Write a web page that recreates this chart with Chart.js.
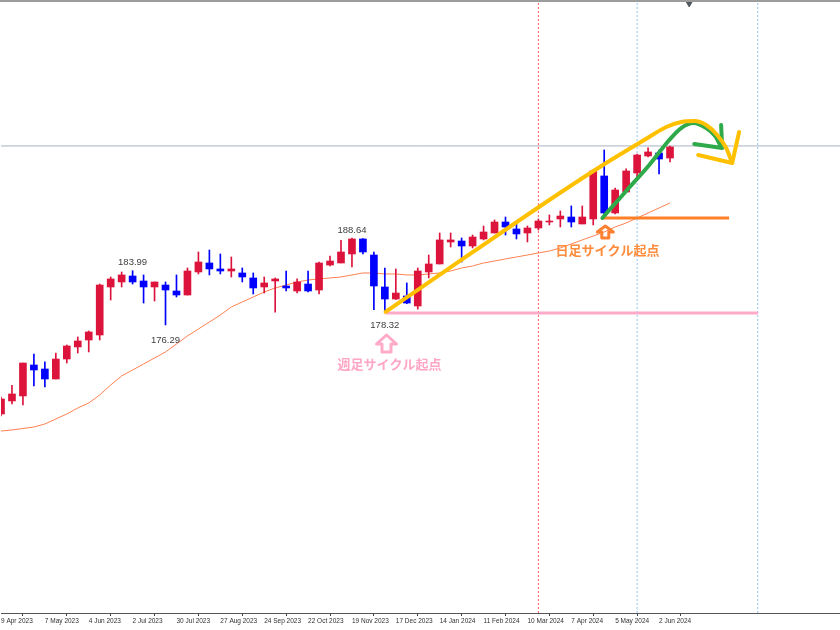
<!DOCTYPE html>
<html>
<head>
<meta charset="utf-8">
<script src="https://cdn.jsdelivr.net/npm/chart.js@4.4.1/dist/chart.umd.min.js"></script>
<style>
  body { margin: 0; background: #fff; }
  #wrap { width: 840px; height: 628px; border-top: 2px solid #9c9c9c; }
</style>
</head>
<body>
<div id="wrap"><canvas id="myChart" width="840" height="628"></canvas></div>
<script>
// weekly candles, index 0 = week of 9 Apr 2023
const tickIdx = [0, 4, 8, 12, 16, 20, 24, 28, 32, 36, 40, 44, 48, 52, 56, 60];
const tickLabels = ["9 Apr 2023", "7 May 2023", "4 Jun 2023", "2 Jul 2023", "30 Jul 2023", "27 Aug 2023",
  "24 Sep 2023", "22 Oct 2023", "19 Nov 2023", "17 Dec 2023", "14 Jan 2024", "11 Feb 2024",
  "10 Mar 2024", "7 Apr 2024", "5 May 2024", "2 Jun 2024"];

const open = [163.64, 165.49, 166.20, 170.60, 170.03, 168.61, 171.45, 173.16, 174.15, 174.86,
  181.68, 182.39, 183.24, 182.53, 181.68, 181.96, 181.11, 180.54, 183.81, 185.09,
  184.24, 183.95, 183.67, 182.96, 181.68, 182.53, 181.82, 181.11, 182.10, 181.25,
  184.80, 185.09, 186.37, 188.50, 186.22, 181.68, 179.97, 180.40, 178.98, 183.81,
  184.95, 188.07, 188.21, 187.50, 188.50, 189.35, 190.91, 189.92, 189.35, 190.06,
  190.91, 191.34, 191.62, 190.63, 191.34, 197.45, 192.19, 195.17, 197.87, 200.29,
  200.71, 200.00];
const high = [166.05, 167.70, 170.88, 172.16, 171.03, 172.30, 173.44, 174.58, 175.43, 182.10,
  183.10, 183.81, 183.99, 183.39, 182.39, 182.39, 183.39, 184.38, 186.65, 186.93,
  186.37, 185.94, 184.38, 183.67, 183.10, 182.96, 183.95, 182.82, 183.95, 185.23,
  186.08, 188.30, 188.64, 188.55, 186.65, 184.38, 184.24, 182.25, 184.38, 186.22,
  189.35, 189.35, 188.64, 189.06, 190.34, 191.20, 191.62, 190.77, 190.34, 191.34,
  191.91, 192.48, 193.19, 193.19, 198.30, 201.14, 195.74, 198.45, 200.57, 201.43,
  201.14, 201.71];
const low = [163.35, 165.06, 164.92, 167.62, 167.47, 168.61, 170.88, 172.30, 172.45, 174.15,
  179.83, 181.68, 182.10, 179.40, 179.69, 176.29, 180.26, 180.54, 183.53, 183.39,
  183.53, 183.10, 182.39, 180.68, 180.82, 178.10, 181.11, 180.82, 180.97, 180.68,
  184.66, 185.09, 184.52, 186.37, 178.45, 178.32, 179.90, 179.30, 178.53, 182.96,
  184.95, 187.36, 185.23, 187.22, 188.36, 189.35, 189.06, 188.50, 188.07, 189.78,
  190.49, 190.20, 190.20, 190.63, 190.49, 192.05, 192.05, 195.10, 197.30, 200.15,
  197.73, 199.44];
const close = [165.77, 166.48, 170.88, 169.89, 168.61, 171.45, 173.30, 174.01, 175.29, 181.96,
  182.82, 183.39, 182.39, 181.68, 182.39, 181.25, 180.54, 183.95, 185.23, 184.24,
  183.95, 184.24, 183.10, 181.54, 182.25, 182.82, 181.54, 182.39, 181.11, 185.09,
  185.37, 186.65, 188.50, 186.65, 181.82, 179.97, 180.82, 179.40, 183.95, 184.95,
  188.36, 188.36, 187.50, 188.78, 189.49, 190.91, 190.20, 189.21, 190.06, 191.05,
  191.05, 191.76, 190.91, 191.62, 198.16, 192.19, 195.46, 198.16, 200.43, 200.86,
  199.86, 201.57];
const ma = [161.22, 161.37, 161.58, 161.79, 162.22, 162.93, 163.64, 164.49, 165.20, 166.34,
  167.76, 169.04, 169.89, 170.74, 171.59, 172.45, 173.58, 174.72, 175.71, 176.71,
  177.70, 178.84, 179.55, 180.26, 180.97, 181.54, 181.96, 182.39, 182.67, 182.82,
  182.96, 183.10, 183.39, 183.67, 183.67, 183.53, 183.53, 183.39, 183.39, 183.53,
  183.67, 183.95, 184.38, 184.66, 185.09, 185.37, 185.66, 185.94, 186.22, 186.51,
  186.79, 187.22, 187.79, 188.36, 188.92, 189.49, 190.20, 190.77, 191.48, 192.19,
  192.90, 193.61];

// high / low marks
const markIdx = [12, 15, 32, 35];
const markVal = [183.99, 176.29, 188.64, 178.32];
const markSide = ["above", "below", "above", "below"];

// separators and price line
const redLineIdx = 49;
const blueLineIdx = [58, 69];
const lastPrice = 201.71;

// hand drawn lines (week index, price)
const yellowX = [35.06, 42.9, 51.09, 54.74, 58.65, 60.66, 62.02, 63.21, 64.30, 65.30, 66.12, 66.67];
const yellowY = [178.13, 186.51, 195.17, 198.87, 202.56, 204.41, 205.12, 205.26, 204.69, 203.27, 201.42, 199.29];
const yellowHeadX = [63.57, 66.67, 67.3];
const yellowHeadY = [200.43, 199.29, 203.70];
const greenX = [54.83, 57.01, 59.11, 60.93, 62.02, 63.12, 64.30, 65.12, 65.66];
const greenY = [191.48, 195.32, 199.01, 202.56, 204.26, 204.97, 204.26, 203.13, 201.57];
const greenHeadX = [63.21, 65.76, 65.66];
const greenHeadY = [201.99, 201.42, 204.69];
const orangeX = [54.83, 66.39];
const orangeLevel = 191.48;
const pinkX = [35.06, 69.03];
const pinkLevel = 178.0;

const noteText = ["週足サイクル起点", "日足サイクル起点"];
const noteIdx = [35.43, 55.3];
const noteVal = [170.74, 186.93];

const yMin = 135.37;
const yMax = 222.16;
const xMax = 76.5;

const RED = "#dc143c";
const BLUE = "#0000ff";

const pts = (xs, ys) => xs.map((v, k) => ({ x: v, y: ys[k] }));
const candleColor = open.map((o, k) => (close[k] >= o ? RED : BLUE));

const upArrow = (ctx, cx, tip, head, bottom, hw, sw) => {
  ctx.beginPath();
  ctx.moveTo(cx, tip);
  ctx.lineTo(cx + hw, head);
  ctx.lineTo(cx + sw, head);
  ctx.lineTo(cx + sw, bottom);
  ctx.lineTo(cx - sw, bottom);
  ctx.lineTo(cx - sw, head);
  ctx.lineTo(cx - hw, head);
  ctx.closePath();
  ctx.stroke();
};

const notesPlugin = {
  id: "notes",
  afterDatasetsDraw(chart) {
    const { ctx } = chart;
    const x = chart.scales.x;
    const y = chart.scales.y;
    ctx.save();
    ctx.textAlign = "center";
    ctx.textBaseline = "middle";
    ctx.font = '9.5px "Liberation Sans", Arial, sans-serif';
    ctx.fillStyle = "#404040";
    markIdx.forEach((idx, k) => {
      const px = x.getPixelForValue(idx);
      const py = y.getPixelForValue(markVal[k]);
      ctx.fillText(markVal[k].toFixed(2), px, py + (markSide[k] === "above" ? -8 : 15));
    });

    ctx.lineWidth = 3;
    ctx.lineJoin = "round";
    ctx.strokeStyle = "#ffaac8";
    upArrow(ctx, x.getPixelForValue(35.15), y.getPixelForValue(174.86),
      y.getPixelForValue(173.58), y.getPixelForValue(172.45), 10, 4.5);
    ctx.strokeStyle = "#ff8030";
    upArrow(ctx, x.getPixelForValue(55.1), y.getPixelForValue(190.34),
      y.getPixelForValue(189.49), y.getPixelForValue(188.64), 8, 3.5);

    ctx.font = 'bold 13px "Noto Sans CJK JP", sans-serif';
    const noteColor = ["#ffa6c6", "#ff8c3c"];
    noteText.forEach((t, k) => {
      ctx.fillStyle = noteColor[k];
      ctx.fillText(t, x.getPixelForValue(noteIdx[k]), y.getPixelForValue(noteVal[k]));
    });
    ctx.restore();
  },
};

const ctx = document.getElementById("myChart");
const config = {
  type: "bar",
  data: {
    datasets: [
      {
        type: "line", order: 0, data: pts(yellowHeadX, yellowHeadY),
        borderColor: "#ffc000", borderWidth: 4, borderCapStyle: "round", borderJoinStyle: "round",
        pointRadius: 0, tension: 0,
      },
      {
        type: "line", order: 0, data: pts(yellowX, yellowY),
        borderColor: "#ffc000", borderWidth: 4, borderCapStyle: "round",
        pointRadius: 0, cubicInterpolationMode: "monotone",
      },
      {
        type: "line", order: 0, data: pts(greenHeadX, greenHeadY),
        borderColor: "#2eaa4a", borderWidth: 4, borderCapStyle: "round", borderJoinStyle: "round",
        pointRadius: 0, tension: 0,
      },
      {
        type: "line", order: 0, data: pts(greenX, greenY),
        borderColor: "#2eaa4a", borderWidth: 4, borderCapStyle: "round",
        pointRadius: 0, cubicInterpolationMode: "monotone",
      },
      {
        type: "line", order: 1, data: orangeX.map((v) => ({ x: v, y: orangeLevel })),
        borderColor: "#ff8028", borderWidth: 3, pointRadius: 0,
      },
      {
        type: "line", order: 1, data: pinkX.map((v) => ({ x: v, y: pinkLevel })),
        borderColor: "#ffaac8", borderWidth: 3, pointRadius: 0,
      },
      {
        order: 2, grouped: false, barThickness: 7,
        data: open.map((o, k) => ({ x: k, y: [o, close[k]] })),
        backgroundColor: candleColor,
      },
      {
        order: 3, grouped: false, barThickness: 1,
        data: low.map((l, k) => ({ x: k, y: [l, high[k]] })),
        backgroundColor: candleColor,
      },
      {
        type: "line", order: 4, data: ma.map((v, k) => ({ x: k, y: v })),
        borderColor: "#ff8050", borderWidth: 1, pointRadius: 0, tension: 0,
      },
      {
        type: "line", order: 5, data: [{ x: 0, y: lastPrice }, { x: xMax, y: lastPrice }],
        borderColor: "#a8b2c4", borderWidth: 1, pointRadius: 0,
      },
      {
        type: "line", order: 5, data: [{ x: redLineIdx, y: yMin }, { x: redLineIdx, y: yMax }],
        borderColor: "#ff5a5a", borderWidth: 1, borderDash: [2, 2], pointRadius: 0,
      },
      ...blueLineIdx.map((b) => ({
        type: "line", order: 5, data: [{ x: b, y: yMin }, { x: b, y: yMax }],
        borderColor: "#90c4f4", borderWidth: 1, borderDash: [2, 2], pointRadius: 0,
      })),
      {
        type: "line", order: 5, data: [{ x: 62.75, y: yMax - 0.2 }],
        showLine: false, pointStyle: "triangle", rotation: 180, pointRadius: 3.5,
        backgroundColor: "#505860", borderColor: "#505860", clip: false,
      },
    ],
  },
  options: {
    responsive: false,
    animation: false,
    events: [],
    layout: { padding: 0, autoPadding: false },
    plugins: { legend: { display: false }, tooltip: { enabled: false } },
    scales: {
      x: {
        type: "linear",
        min: 0,
        max: xMax,
        offset: false,
        afterBuildTicks: (axis) => {
          axis.ticks = tickIdx.map((v) => ({ value: v }));
        },
        afterFit: (axis) => {
          axis.height = 17;
        },
        ticks: {
          autoSkip: false,
          maxRotation: 0,
          align: "start",
          padding: 1,
          color: "#303030",
          font: { family: "Liberation Sans", size: 6.5 },
          callback: (v, i) => tickLabels[i],
        },
        grid: { drawOnChartArea: false, tickLength: 3, color: "#404040" },
        border: { color: "#555555" },
      },
      y: { display: false, min: yMin, max: yMax },
    },
  },
  plugins: [notesPlugin],
};

new Chart(ctx, config);
</script>
</body>
</html>
